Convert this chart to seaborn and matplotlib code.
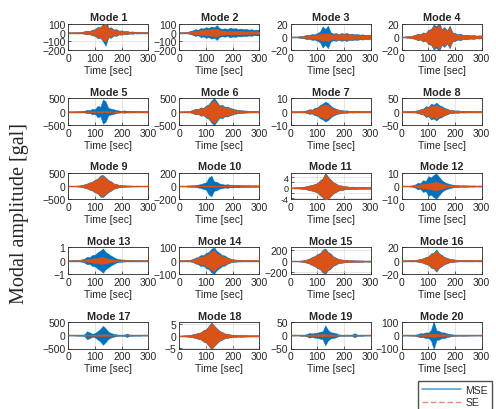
#!/usr/bin/env python3

import pandas as pd
import matplotlib
matplotlib.use("Agg")
import matplotlib.pyplot as plt
from matplotlib.lines import Line2D
import seaborn as sns

# time axis of the envelope samples (sec)
time_sec = list(range(0, 301, 10))

# envelope amplitude, one value every 10 sec
mse_1 = [2, 3, 2, 4, 5, 9, 14, 22, 19, 33, 38, 65, 60, 100, 150, 55, 60, 35, 38, 22, 25, 15, 18, 10, 13, 8, 10, 6, 7, 5, 4]
se_1 = [2, 2, 3, 3, 5, 8, 12, 18, 16, 28, 32, 55, 52, 90, 100, 48, 50, 30, 30, 19, 20, 13, 14, 9, 10, 7, 8, 5, 6, 4, 3]
mse_2 = [3, 4, 3, 6, 18, 25, 38, 32, 52, 45, 60, 52, 70, 58, 85, 50, 42, 48, 40, 55, 45, 50, 40, 45, 38, 42, 33, 38, 30, 34, 30]
se_2 = [2, 2, 3, 5, 10, 14, 22, 20, 30, 26, 36, 30, 42, 36, 48, 30, 22, 24, 18, 22, 18, 22, 17, 20, 16, 18, 14, 16, 12, 14, 12]
mse_3 = [0.5, 0.6, 0.5, 1, 1.5, 2, 3.5, 3, 4.5, 4, 6, 8, 16, 12, 17, 7, 5, 6, 4, 6, 5, 6, 4.5, 5, 4, 4.5, 3.5, 4, 3, 3.5, 3]
se_3 = [0.3, 0.4, 0.5, 0.6, 1, 1.2, 2, 1.8, 3, 2.6, 4, 4.5, 6, 5, 6, 4, 3.5, 4.5, 3.5, 4.5, 4, 4.5, 3.5, 4, 3, 3.5, 2.8, 3, 2.3, 2.5, 2]
mse_4 = [0.5, 0.6, 1, 1.2, 2, 3, 5, 4, 7, 6, 11, 12, 19, 16, 22, 12, 15, 10, 17, 7, 6, 4, 5, 3, 3.5, 3, 2.5, 3, 2, 2.5, 2]
se_4 = [0.5, 0.5, 1, 1, 2, 3, 4.5, 3.8, 6.5, 5.5, 10, 11, 17, 14, 19, 11, 13, 9, 15, 6, 5, 3.5, 4, 3, 3, 2.5, 2.2, 2.5, 2, 2, 2]
mse_5 = [5, 6, 8, 12, 15, 22, 30, 65, 55, 110, 90, 220, 180, 460, 380, 140, 110, 90, 55, 40, 30, 45, 28, 35, 30, 28, 25, 22, 20, 24, 20]
se_5 = [2, 2, 2, 3, 3, 4, 5, 6, 8, 10, 10, 12, 15, 15, 12, 10, 8, 8, 6, 5, 5, 5, 4, 4, 4, 3, 3, 3, 3, 3, 3]
mse_6 = [5, 6, 10, 16, 30, 65, 110, 95, 160, 140, 230, 280, 420, 510, 380, 230, 260, 180, 190, 140, 110, 80, 65, 50, 45, 38, 32, 30, 26, 24, 20]
se_6 = [4, 5, 8, 13, 25, 55, 90, 80, 135, 120, 200, 240, 360, 440, 320, 200, 220, 150, 160, 110, 85, 60, 50, 40, 32, 30, 26, 24, 20, 19, 15]
mse_7 = [0.2, 0.2, 0.2, 0.3, 0.3, 0.5, 1, 1.8, 1.5, 2.8, 3.2, 5, 6, 7.5, 6.5, 4.5, 3, 2.2, 1.5, 1.2, 0.8, 0.9, 0.6, 0.7, 0.5, 0.6, 0.4, 0.5, 0.3, 0.4, 0.3]
se_7 = [0.1, 0.1, 0.2, 0.2, 0.3, 0.4, 0.8, 1.4, 1.2, 2.2, 2.6, 4, 4.8, 5.5, 5, 3.4, 2.3, 1.7, 1, 0.9, 0.6, 0.7, 0.5, 0.5, 0.4, 0.5, 0.3, 0.4, 0.3, 0.3, 0.2]
mse_8 = [1, 1, 1.5, 2, 2, 3.5, 5, 9, 11, 20, 18, 30, 26, 34, 24, 21, 14, 11, 6, 5.5, 4, 4.5, 3, 3.5, 3, 3, 2.5, 2.5, 2, 2.2, 2]
se_8 = [1, 1, 1, 1.5, 2, 3, 4, 7.5, 9, 16, 15, 24, 21, 27, 19, 17, 11, 9, 5, 4.5, 3, 3.5, 2.5, 3, 2.5, 2.5, 2, 2, 2, 2, 2]
mse_9 = [5, 6, 10, 12, 20, 32, 65, 95, 140, 170, 240, 280, 400, 420, 320, 230, 180, 100, 75, 45, 32, 25, 22, 18, 16, 14, 13, 12, 10, 11, 10]
se_9 = [5, 5, 8, 11, 18, 28, 58, 90, 130, 160, 225, 265, 360, 390, 290, 210, 160, 95, 68, 42, 28, 22, 19, 16, 14, 13, 11, 11, 9, 10, 9]
mse_10 = [5, 6, 5, 9, 10, 12, 16, 22, 30, 45, 55, 130, 155, 70, 65, 38, 32, 22, 28, 18, 22, 17, 20, 14, 16, 12, 14, 11, 12, 10, 10]
se_10 = [1, 1, 1, 2, 2, 2, 3, 3, 4, 5, 6, 8, 8, 8, 6, 5, 4, 3, 3, 3, 2, 2, 2, 2, 2, 2, 2, 2, 2, 2, 2]
mse_11 = [0.1, 0.1, 0.2, 0.25, 0.3, 0.45, 0.6, 0.9, 1.1, 1.4, 1.8, 2.8, 3.5, 5.6, 4.2, 3.1, 2.1, 1.6, 1, 0.9, 0.6, 0.55, 0.4, 0.45, 0.4, 0.35, 0.3, 0.35, 0.3, 0.3, 0.3]
se_11 = [0.1, 0.1, 0.2, 0.2, 0.3, 0.4, 0.6, 0.8, 1, 1.3, 1.7, 2.6, 3.3, 5.2, 4, 2.9, 2, 1.5, 0.9, 0.8, 0.6, 0.5, 0.4, 0.4, 0.35, 0.3, 0.3, 0.3, 0.3, 0.3, 0.3]
mse_12 = [0.2, 0.2, 0.2, 0.3, 0.5, 1.2, 2.5, 2.2, 4.5, 3.8, 7.5, 6.5, 8.5, 9.5, 7, 4.5, 3, 2.2, 1.5, 1.1, 0.8, 0.7, 0.5, 0.6, 0.5, 0.45, 0.4, 0.45, 0.3, 0.35, 0.3]
se_12 = [0.1, 0.1, 0.1, 0.2, 0.3, 0.5, 1.1, 1.3, 1.9, 1.7, 2.6, 2.3, 3.1, 3.2, 2.6, 2, 1.5, 1, 0.8, 0.6, 0.5, 0.4, 0.3, 0.3, 0.3, 0.3, 0.2, 0.2, 0.2, 0.2, 0.2]
mse_13 = [0.02, 0.02, 0.03, 0.04, 0.05, 0.09, 0.15, 0.28, 0.26, 0.42, 0.45, 0.62, 0.75, 0.92, 0.65, 0.52, 0.38, 0.26, 0.15, 0.11, 0.08, 0.07, 0.05, 0.06, 0.04, 0.05, 0.04, 0.04, 0.03, 0.03, 0.03]
se_13 = [0.01, 0.01, 0.02, 0.02, 0.03, 0.04, 0.06, 0.1, 0.12, 0.15, 0.18, 0.2, 0.25, 0.25, 0.2, 0.15, 0.12, 0.08, 0.06, 0.05, 0.04, 0.03, 0.03, 0.03, 0.02, 0.02, 0.02, 0.02, 0.02, 0.02, 0.02]
mse_14 = [2, 2, 3, 4, 6, 12, 22, 28, 42, 40, 58, 65, 90, 100, 72, 58, 42, 38, 24, 16, 10, 8, 7, 6, 5, 5.5, 4, 4.5, 4, 3.5, 3]
se_14 = [2, 2, 3, 4, 5, 9, 16, 21, 32, 30, 46, 52, 72, 80, 56, 46, 34, 30, 19, 13, 8, 6, 5.5, 5, 4, 4.5, 3.5, 3.5, 3, 3, 3]
mse_15 = [3, 3, 5, 6, 10, 16, 32, 48, 75, 95, 130, 150, 210, 235, 170, 140, 85, 65, 38, 32, 24, 21, 15, 16, 12, 13, 10, 11, 8, 9, 8]
se_15 = [3, 3, 4, 5, 9, 14, 28, 43, 68, 86, 118, 138, 195, 215, 155, 128, 76, 58, 34, 28, 21, 19, 14, 14, 11, 11, 9, 10, 7, 8, 7]
mse_16 = [0.3, 0.3, 0.4, 0.5, 0.8, 1.1, 1.6, 2.6, 3.4, 5.5, 6.5, 11, 12, 17, 11, 8.5, 5.5, 4.2, 2.5, 2.1, 1.5, 1.3, 1, 1.1, 0.9, 0.9, 0.8, 0.8, 0.6, 0.7, 0.6]
se_16 = [0.3, 0.3, 0.4, 0.5, 0.7, 1, 1.4, 2.3, 3.1, 5, 6, 10, 11, 15, 10, 7.5, 5, 3.8, 2.2, 1.9, 1.3, 1.2, 0.9, 1, 0.8, 0.8, 0.7, 0.7, 0.5, 0.6, 0.5]
mse_17 = [10, 10, 10, 15, 15, 20, 30, 150, 110, 55, 85, 160, 240, 360, 260, 140, 85, 55, 30, 20, 20, 20, 65, 20, 22, 15, 16, 15, 10, 12, 10]
se_17 = [3, 3, 3, 4, 4, 5, 8, 20, 20, 15, 18, 25, 30, 35, 30, 25, 15, 10, 8, 6, 6, 6, 8, 5, 5, 4, 4, 4, 3, 3, 3]
mse_18 = [0.1, 0.15, 0.2, 0.3, 0.4, 0.65, 0.9, 1.3, 1.5, 2.4, 2.8, 4.2, 5.7, 4.3, 3.2, 2.1, 1.6, 1, 0.85, 0.6, 0.5, 0.45, 0.3, 0.35, 0.3, 0.3, 0.2, 0.25, 0.2, 0.2, 0.2]
se_18 = [0.1, 0.1, 0.2, 0.3, 0.4, 0.6, 0.85, 1.2, 1.4, 2.3, 2.7, 4, 5.4, 4.1, 3, 2, 1.5, 0.95, 0.8, 0.55, 0.45, 0.4, 0.3, 0.3, 0.25, 0.25, 0.2, 0.2, 0.2, 0.2, 0.2]
mse_19 = [1, 1, 1, 1, 2, 2, 4, 9, 7, 9, 10, 13, 15, 38, 20, 12, 10, 8, 3, 2, 2, 2, 2, 2, 8, 2, 2, 2, 1, 1, 1]
se_19 = [0.5, 0.5, 0.5, 0.5, 0.8, 1, 1.5, 2.5, 3, 3, 3.5, 4, 4, 4, 3.5, 3, 2.5, 2, 1, 1, 0.8, 0.8, 0.8, 0.8, 1.5, 0.8, 0.6, 0.6, 0.5, 0.5, 0.5]
mse_20 = [2, 2, 2, 3, 3, 4, 9, 16, 14, 22, 20, 42, 105, 38, 32, 22, 21, 14, 10, 6, 4, 3.5, 3, 3.5, 3, 3, 2, 2.5, 2, 2, 2]
se_20 = [1, 1, 1, 1, 1, 2, 3, 5, 6, 7, 8, 10, 12, 10, 9, 8, 7, 5, 4, 3, 2, 2, 2, 2, 2, 2, 1, 1, 1, 1, 1]

mse_env = [mse_1, mse_2, mse_3, mse_4, mse_5, mse_6, mse_7, mse_8, mse_9, mse_10,
           mse_11, mse_12, mse_13, mse_14, mse_15, mse_16, mse_17, mse_18, mse_19, mse_20]
se_env = [se_1, se_2, se_3, se_4, se_5, se_6, se_7, se_8, se_9, se_10,
          se_11, se_12, se_13, se_14, se_15, se_16, se_17, se_18, se_19, se_20]

# axis limits, y ticks and the ticks that carry a label, for every panel
y_limits = [(-200, 100), (-200, 100), (-20, 20), (-20, 20),
            (-500, 500), (-500, 500), (-10, 10), (-50, 50),
            (-500, 500), (-200, 200), (-4.3, 5.6), (-10, 10),
            (-1, 1), (-100, 100), (-235, 255), (-20, 20),
            (-500, 500), (-5.3, 5.8), (-50, 50), (-100, 100)]
y_ticks = [[-200, -100, 0, 100], [-200, -100, 0, 100], [-20, 0, 20], [-20, 0, 20],
           [-500, 0, 500], [-500, 0, 500], [-10, 0, 10], [-50, 0, 50],
           [-500, 0, 500], [-200, 0, 200], [-4, -2, 0, 2, 4], [-10, 0, 10],
           [-1, 0, 1], [-100, 0, 100], [-200, 0, 200], [-20, 0, 20],
           [-500, 0, 500], [-5, 0, 5], [-50, 0, 50], [-100, 0, 100]]
mode11_labels = ["-4", "", "0", "", "4"]
x_ticks = [0, 100, 200, 300]

MSE_COLOR = "#0072BD"
SE_COLOR = "#D95319"

sns.set_style("ticks")
plt.rcParams["font.family"] = ["Liberation Sans", "DejaVu Sans"]


def envelope_frame(env):
    # upper and lower edge at every sample time, seaborn draws the min-max band
    times = time_sec + time_sec
    amps = list(env) + [-v for v in env]
    return pd.DataFrame({"time": times, "amp": amps})


def draw_signal(ax, env, color, dashes, z):
    n_lines = len(ax.lines)
    n_coll = len(ax.collections)
    sns.lineplot(data=envelope_frame(env), x="time", y="amp", ax=ax,
                 color=color, linewidth=0.9,
                 errorbar=("pi", 100), estimator="mean",
                 err_kws={"alpha": 1.0, "linewidth": 0.3, "edgecolor": color})
    for art in ax.collections[n_coll:]:
        art.set_zorder(z)
    for art in ax.lines[n_lines:]:
        art.set_zorder(z + 0.1)
        if dashes:
            art.set_dashes(dashes)


fig = plt.figure(figsize=(4.96, 4.10), dpi=100)
W, H = 496.0, 410.0
col_left = [68.3, 179.4, 290.6, 401.7]
row_top = [24.7, 99.3, 173.8, 248.3, 323.0]
ax_w, ax_h = 80.0, 26.5

for i in range(20):
    r, c = divmod(i, 4)
    ax = fig.add_axes([col_left[c] / W, 1 - (row_top[r] + ax_h) / H, ax_w / W, ax_h / H])
    ax.grid(True, color="#DCDCDC", linewidth=0.5, zorder=0)
    ax.set_axisbelow(True)

    draw_signal(ax, mse_env[i], MSE_COLOR, None, 2)
    draw_signal(ax, se_env[i], SE_COLOR, (4, 2), 3)

    ax.set_xlim(0, 300)
    ax.set_ylim(*y_limits[i])
    ax.set_xticks(x_ticks)
    ax.set_yticks(y_ticks[i])
    ax.tick_params(direction="in", length=2, width=0.5, labelsize=7.5,
                   colors="#262626", pad=2)
    if len(y_ticks[i]) > 4:
        # crowded axis: grid every 2, labels only on every other tick
        ax.set_yticklabels(mode11_labels)
        ax.tick_params(axis="y", labelsize=6.5, pad=1.5)
    for sp in ax.spines.values():
        sp.set_visible(True)
        sp.set_linewidth(0.6)
        sp.set_color("#262626")
    ax.set_xlabel("Time [sec]", fontsize=7.5, color="#262626", labelpad=1.5)
    ax.set_ylabel("")
    ax.set_title(f"Mode {i + 1}", fontsize=7.8, fontweight="bold", pad=2.5)

fig.text(20 / W, 1 - 213 / H, "Modal amplitude [gal]", rotation=90,
         ha="center", va="center", fontsize=14.5, family="Liberation Serif")

handles = [Line2D([], [], color=MSE_COLOR, lw=1.2, alpha=0.65),
           Line2D([], [], color=SE_COLOR, lw=1.0, ls=(0, (4, 2)), alpha=0.65)]
fig.legend(handles, ["MSE", "SE"], loc="upper left",
           bbox_to_anchor=(418 / W, 1 - 382 / H), frameon=True, fancybox=False,
           edgecolor="#262626", fontsize=7.5, handlelength=3.8,
           borderpad=0.35, labelspacing=0.25, handletextpad=0.4,
           borderaxespad=0)

fig.savefig("out.png", dpi=100)
plt.close(fig)
